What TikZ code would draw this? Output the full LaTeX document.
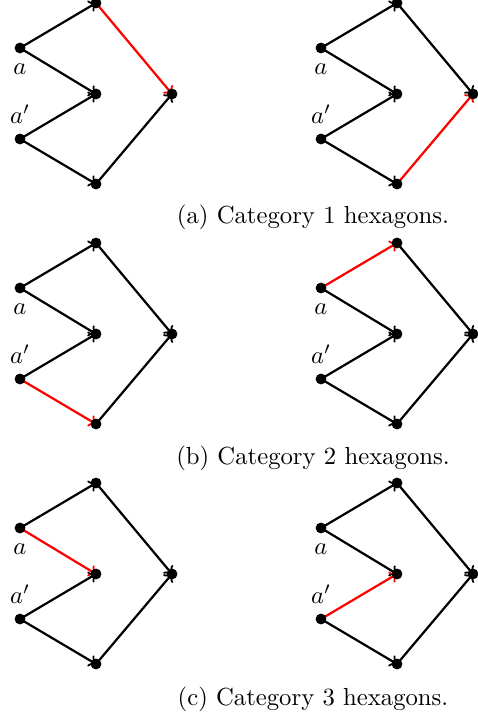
\documentclass[tikz,border=0pt]{standalone}
\usetikzlibrary{arrows,backgrounds}
\tikzset{
  >=to,
  hexdot/.style={circle,fill=black,inner sep=0pt,minimum size=4.4pt},
  hexedge/.style={->,line width=0.9pt,black},
  hexlbl/.style={label distance=0.3pt},
  capt/.style={font=\normalsize,inner sep=1pt},
  hot/.style={red},
  eat/.style={}, eam/.style={}, ebm/.style={},
  ebb/.style={}, etr/.style={}, ebr/.style={},
}
% one hexagon: prefix, x shift, y shift
\newcommand{\hexagon}[3]{%
  \begin{scope}[shift={(#2,#3)}]
    \node[hexdot,label={[hexlbl]below:$a$}] (#1a) at (20,48) {};
    \node[hexdot,label={[hexlbl]above:$a'$}] (#1b) at (20,139) {};
    \node[hexdot] (#1t) at (96,3) {};
    \node[hexdot] (#1m) at (96,94) {};
    \node[hexdot] (#1d) at (96,184) {};
    \node[hexdot] (#1r) at (172,94) {};
    \begin{scope}[on background layer]
      \draw[hexedge,eat] (#1a.center) -- (#1t.center);
      \draw[hexedge,eam] (#1a.center) -- (#1m.center);
      \draw[hexedge,ebm] (#1b.center) -- (#1m.center);
      \draw[hexedge,ebb] (#1b.center) -- (#1d.center);
      \draw[hexedge,etr] (#1t.center) -- (#1r.center);
      \draw[hexedge,ebr] (#1d.center) -- (#1r.center);
    \end{scope}
  \end{scope}}

\begin{document}
\begin{tikzpicture}[x=0.01422cm,y=-0.01422cm]
  \useasboundingbox (0,0) rectangle (477,719);
  % (a)
  \begin{scope}[etr/.style={hot}]
    \hexagon{p}{0}{0}
  \end{scope}
  \begin{scope}[ebr/.style={hot}]
    \hexagon{q}{301}{0}
  \end{scope}
  \node[capt] (capa) at (313,217) {(a) Category 1 hexagons.};
  % (b)
  \begin{scope}[ebb/.style={hot}]
    \hexagon{r}{0}{240}
  \end{scope}
  \begin{scope}[eat/.style={hot}]
    \hexagon{s}{301}{240}
  \end{scope}
  \node[capt] (capb) at (313,458) {(b) Category 2 hexagons.};
  % (c)
  \begin{scope}[eam/.style={hot}]
    \hexagon{u}{0}{480}
  \end{scope}
  \begin{scope}[ebm/.style={hot}]
    \hexagon{v}{301}{480}
  \end{scope}
  \node[capt] (capc) at (313,699) {(c) Category 3 hexagons.};
\end{tikzpicture}
\end{document}
